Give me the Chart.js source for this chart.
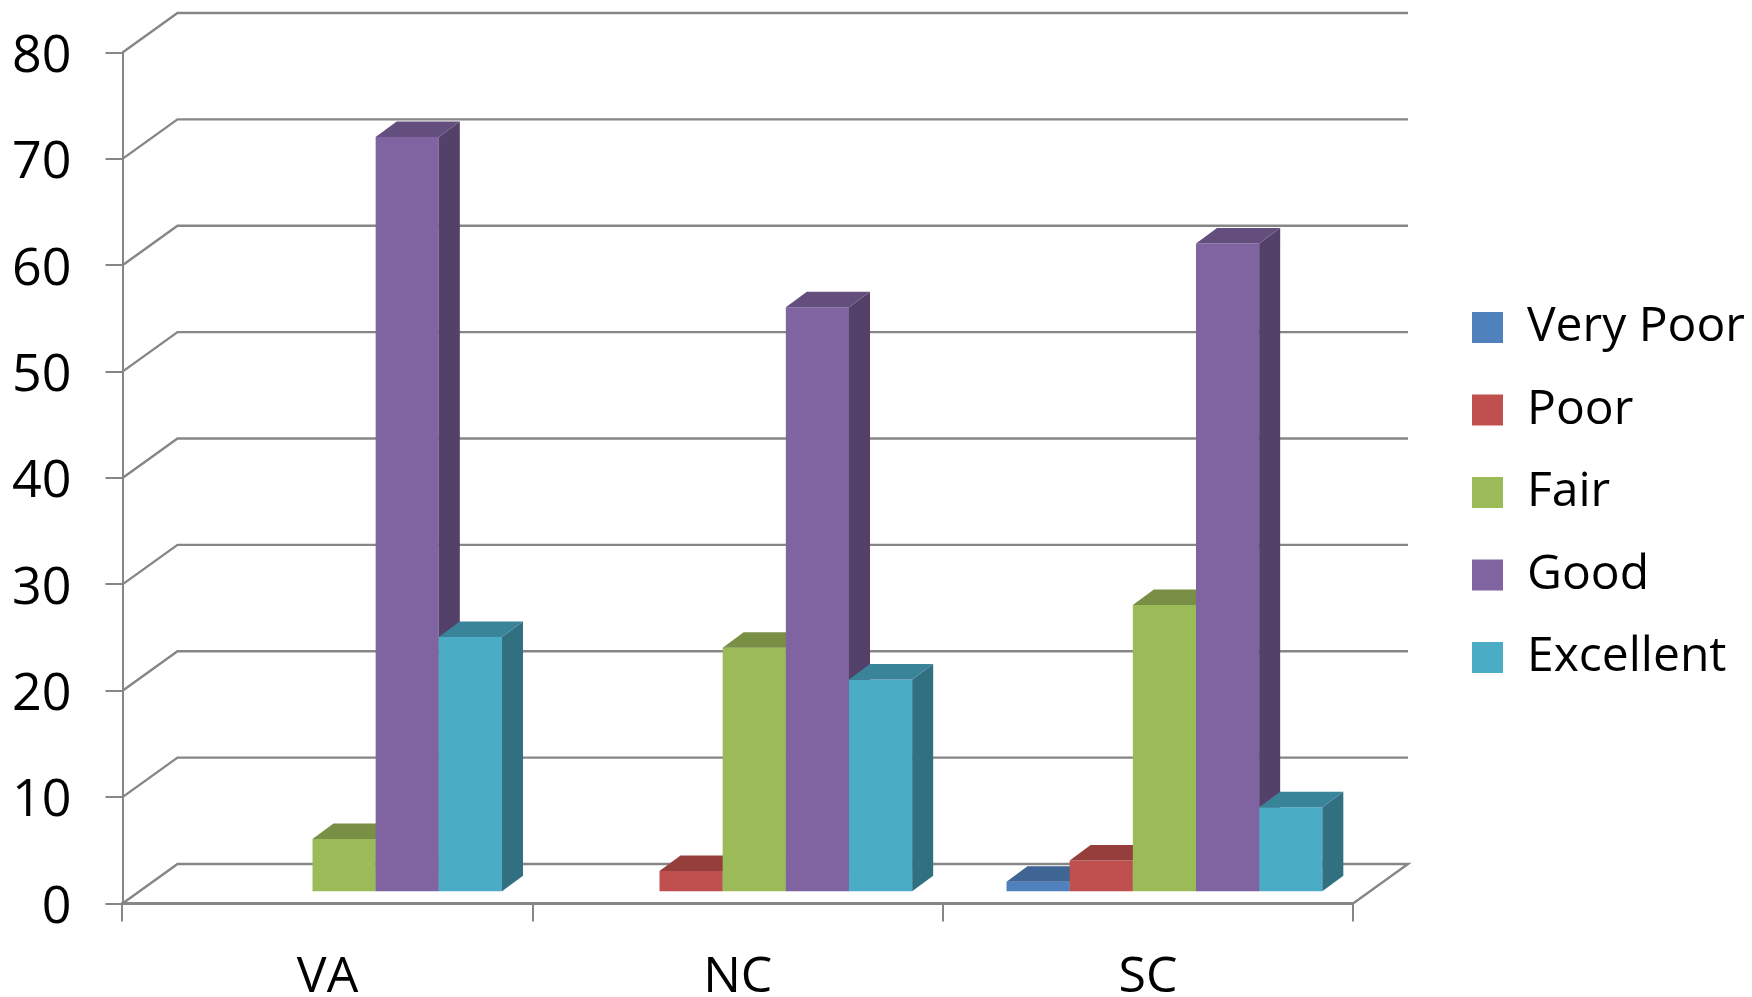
<!DOCTYPE html>
<html><head><meta charset="utf-8">
<style>html,body{margin:0;padding:0;background:#fff}canvas{display:block}</style>
<script src="https://cdn.jsdelivr.net/npm/chart.js@4"></script>
</head><body><canvas id="c" width="1752" height="997" style="width:1752px;height:997px"></canvas>
<script>
const categories = ['VA', 'NC', 'SC'];
const veryPoor  = [null, null, 1];
const poor      = [null, 2, 3];
const fair      = [5, 23, 27];
const good      = [71, 55, 61];
const excellent = [24, 20, 8];
const seriesNames = ['Very Poor', 'Poor', 'Fair', 'Good', 'Excellent'];
const seriesColors = ['#4F81BD', '#C0504D', '#9BBB59', '#8064A2', '#4BACC6'];
const sideColors = ['#345580', '#7E3432', '#667B3A', '#534169', '#317080'];
const topColors = ['#3E6594', '#963E3C', '#798F45', '#644E7E', '#3A8499'];
const seriesValues = [veryPoor, poor, fair, good, excellent];
const yMin = 0, yMax = 80, yStep = 10;

const GRID = '#868686', FONT = '"Open Sans", sans-serif';
const WALL = {dx: 55, dy: 39.5};     // depth of the floor/back wall
const BAR_SHIFT = {dx: 16.5, dy: 11.2}; // bars stand inside the floor
const BAR_DEPTH = {dx: 21, dy: 15.5};

const threeD = {
  id: 'threeD',
  beforeLayout(chart) {
    const l = chart.legend;
    if (l && !l._patched) {
      const fit = l.fit;
      l.fit = function () { fit.call(this); this.width = 399; };
      l._patched = true;
    }
  },
  afterLayout(chart) {
    const l = chart.legend;
    const pad = l.options.labels.padding;
    const w = l.width;
    l.left = 1472 - pad; l.right = l.left + w;
    l.top = -6; l.bottom = 991;
  },
  beforeDatasetsDraw(chart) {
    const {ctx, scales: {y}, chartArea: a} = chart;
    ctx.save();
    ctx.strokeStyle = GRID; ctx.lineWidth = 2.4;
    y.ticks.forEach((t, i) => {
      const py = y.getPixelForTick(i);
      ctx.beginPath();
      ctx.moveTo(a.left, py);
      ctx.lineTo(a.left + WALL.dx, py - WALL.dy);
      ctx.lineTo(a.right + WALL.dx, py - WALL.dy);
      if (i === 0 && t.value === yMin) ctx.lineTo(a.right, py);
      ctx.stroke();
    });
    ctx.restore();
  },
  // Native per-dataset drawing runs last-to-first; the 3D faces need first-to-last.
  beforeDatasetDraw() { return false; },
  afterDatasetsDraw(chart) {
    const ctx = chart.ctx;
    seriesNames.forEach((_, i) => {
      const meta = chart.getDatasetMeta(i);
      ctx.save();
      ctx.translate(BAR_SHIFT.dx, -BAR_SHIFT.dy);
      meta.controller.draw();
      meta.data.forEach((el, k) => {
        if (seriesValues[i][k] === null) return;
        const {x, y, base, width} = el.getProps(['x', 'y', 'base', 'width'], true);
        const l = x - width / 2, r = x + width / 2;
        ctx.fillStyle = sideColors[i];
        ctx.beginPath();
        ctx.moveTo(r, y); ctx.lineTo(r + BAR_DEPTH.dx, y - BAR_DEPTH.dy);
        ctx.lineTo(r + BAR_DEPTH.dx, base - BAR_DEPTH.dy); ctx.lineTo(r, base);
        ctx.closePath(); ctx.fill();
        ctx.fillStyle = topColors[i];
        ctx.beginPath();
        ctx.moveTo(l, y); ctx.lineTo(r, y);
        ctx.lineTo(r + BAR_DEPTH.dx, y - BAR_DEPTH.dy);
        ctx.lineTo(l + BAR_DEPTH.dx, y - BAR_DEPTH.dy);
        ctx.closePath(); ctx.fill();
      });
      ctx.restore();
    });
  }
};

new Chart(document.getElementById('c'), {
  type: 'bar',
  data: {
    labels: categories,
    datasets: seriesNames.map((n, i) => ({
      label: n,
      data: seriesValues[i],
      backgroundColor: seriesColors[i],
      borderWidth: 0,
      clip: false
    }))
  },
  plugins: [threeD],
  options: {
    responsive: false,
    devicePixelRatio: 1,
    animation: false,
    layout: {padding: {top: 52.5, left: 0, right: 0, bottom: 0}},
    datasets: {bar: {categoryPercentage: 0.77, barPercentage: 1}},
    plugins: {
      tooltip: {enabled: false},
      legend: {
        position: 'right',
        labels: {
          boxWidth: 31, boxHeight: 31, padding: 34.5,
          color: '#000', font: {family: FONT, size: 48}
        }
      }
    },
    scales: {
      x: {
        afterFit(s) { s.height = 93.5; },
        grid: {drawOnChartArea: false, drawTicks: true, tickLength: 18, color: GRID, lineWidth: 2},
        border: {color: GRID, width: 3},
        ticks: {color: '#000', font: {family: FONT, size: 50}, padding: 26, maxRotation: 0}
      },
      y: {
        min: yMin, max: yMax,
        afterFit(s) { s.width = 122.5; s.paddingTop = 0; s.paddingBottom = 0; },
        grid: {drawOnChartArea: false, drawTicks: true, tickLength: 17, color: GRID, lineWidth: 2},
        border: {color: GRID, width: 2},
        ticks: {stepSize: yStep, color: '#000', font: {family: FONT, size: 52}, padding: 34, labelOffset: 4.5}
      }
    }
  }
});
</script></body></html>
